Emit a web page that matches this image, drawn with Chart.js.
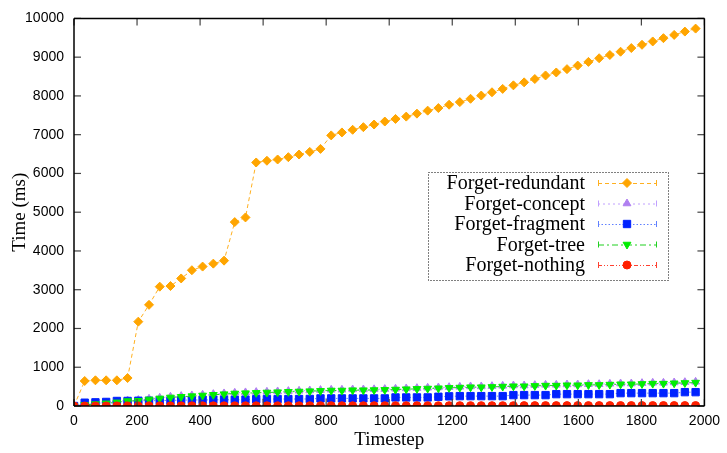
<!DOCTYPE html>
<html>
<head>
<meta charset="utf-8">
<script src="https://cdn.jsdelivr.net/npm/chart.js@4/dist/chart.umd.min.js"></script>
<style>
  html, body { margin: 0; padding: 0; background: #fff; }
  #timing { display: block; }
</style>
</head>
<body>
<canvas id="timing" width="727" height="453"></canvas>
<script>
// timesteps sampled in the run
var timesteps = [0, 34, 68, 102, 136, 170, 204, 238, 272, 306, 340, 374, 408, 442, 476, 510, 544, 578, 612, 646,
  680, 714, 748, 782, 816, 850, 884, 918, 952, 986, 1020, 1054, 1088, 1122, 1156, 1190, 1224, 1258, 1292, 1326,
  1360, 1394, 1428, 1462, 1496, 1530, 1564, 1598, 1632, 1666, 1700, 1734, 1768, 1802, 1836, 1870, 1904, 1938, 1972];

// time in ms for each strategy
var forgetRedundant = [0, 645, 663, 663, 663, 722, 2176, 2610, 3079, 3095, 3291, 3503, 3597, 3673, 3750, 4745, 4865, 6283, 6327, 6360,
  6420, 6488, 6556, 6633, 6982, 7058, 7126, 7194, 7262, 7339, 7406, 7466, 7543, 7620, 7687, 7773, 7840, 7926, 8010, 8094,
  8181, 8273, 8350, 8436, 8528, 8605, 8691, 8783, 8878, 8972, 9056, 9140, 9235, 9319, 9405, 9490, 9574, 9660, 9737];
var forgetConcept = [0, 45, 65, 85, 110, 142, 152, 186, 212, 238, 255, 272, 290, 306, 324, 340, 350, 358, 366, 375,
  384, 392, 400, 410, 418, 418, 426, 426, 430, 436, 444, 452, 460, 470, 478, 486, 494, 504, 504, 512,
  520, 528, 528, 538, 546, 546, 555, 555, 563, 563, 572, 580, 580, 590, 598, 598, 606, 614, 624];
var forgetFragment = [0, 85, 95, 105, 130, 130, 135, 135, 140, 145, 150, 155, 155, 160, 160, 160, 165, 175, 179, 179,
  180, 180, 182, 196, 196, 196, 196, 196, 196, 196, 221, 221, 221, 221, 238, 250, 255, 255, 255, 255,
  255, 281, 281, 281, 281, 306, 306, 306, 306, 306, 306, 332, 332, 332, 332, 332, 332, 357, 357];
var forgetTree = [0, 30, 50, 70, 95, 128, 136, 170, 196, 221, 238, 255, 272, 289, 306, 323, 332, 340, 349, 357,
  366, 374, 383, 391, 400, 400, 408, 408, 412, 417, 425, 434, 442, 451, 459, 468, 476, 485, 485, 493,
  502, 510, 510, 519, 527, 527, 536, 536, 544, 544, 553, 561, 561, 570, 578, 578, 587, 595, 604];
var forgetNothing = [0, 1, 2, 2, 3, 3, 3, 4, 4, 4, 4, 5, 5, 5, 5, 5, 6, 6, 6, 6,
  6, 6, 7, 7, 7, 7, 7, 7, 8, 8, 8, 8, 8, 8, 8, 9, 9, 9, 9, 9,
  9, 9, 10, 10, 10, 10, 10, 10, 10, 11, 11, 11, 11, 11, 11, 12, 12, 12, 12];

var seriesNames = ["Forget-redundant", "Forget-concept", "Forget-fragment", "Forget-tree", "Forget-nothing"];
var xTicks = [0, 200, 400, 600, 800, 1000, 1200, 1400, 1600, 1800, 2000];
var yTicks = [0, 1000, 2000, 3000, 4000, 5000, 6000, 7000, 8000, 9000, 10000];

const toPoints = (vals) => timesteps.map((t, i) => ({ x: t, y: vals[i] }));

const serif = '"Liberation Serif", "Times New Roman", serif';
const sans = '"Liberation Sans", Arial, Helvetica, sans-serif';

const seg = (ctx, x0, y0, x1, y1) => {
  ctx.beginPath();
  ctx.moveTo(x0, y0);
  ctx.lineTo(x1, y1);
  ctx.stroke();
};

// gnuplot-ish look: frame, inward mirrored ticks, key box on the right
const gnuFrame = {
  id: 'gnuFrame',
  afterDraw(chart) {
    const { ctx, chartArea: a, scales } = chart;
    const L = a.left, R = a.right, T = a.top, B = a.bottom;
    ctx.save();
    ctx.setLineDash([]);
    ctx.globalAlpha = 1;

    // mirrored inward ticks
    ctx.strokeStyle = '#444444';
    ctx.lineWidth = 1.2;
    xTicks.forEach(v => {
      const px = scales.x.getPixelForValue(v);
      seg(ctx, px, B, px, B - 7);
      seg(ctx, px, T, px, T + 7);
    });
    yTicks.forEach(v => {
      const py = scales.y.getPixelForValue(v);
      seg(ctx, L, py, L + 7, py);
      seg(ctx, R, py, R - 7, py);
    });

    ctx.strokeStyle = '#000000';
    ctx.lineWidth = 1.5;
    seg(ctx, L, T, R, T);
    seg(ctx, R, T, R, B);
    seg(ctx, L, B, R, B);
    seg(ctx, L, T, L, B);

    // key
    ctx.setLineDash([1, 2]);
    ctx.lineWidth = 1;
    ctx.strokeRect(428.5, 172.5, 240, 108);

    ctx.font = '20px ' + serif;
    ctx.textAlign = 'right';
    ctx.textBaseline = 'middle';
    chart.data.datasets.forEach((ds, i) => {
      const y = 183 + i * 20.5;
      ctx.setLineDash([]);
      ctx.fillStyle = '#000';
      ctx.fillText(ds.label, 585, y + 1);

      const x0 = 598, x1 = 656, xm = 627;
      ctx.strokeStyle = ds.borderColor;
      ctx.lineWidth = 1;
      ctx.setLineDash(ds.borderDash || []);
      seg(ctx, x0, y + 0.5, x1, y + 0.5);
      ctx.setLineDash([]);
      seg(ctx, x0 + 0.5, y - 3, x0 + 0.5, y + 3);
      seg(ctx, x1 + 0.5, y - 3, x1 + 0.5, y + 3);

      ctx.fillStyle = ds.pointBackgroundColor;
      ctx.strokeStyle = ds.pointBackgroundColor;
      Chart.helpers.drawPoint(ctx, {
        pointStyle: ds.pointStyle,
        radius: ds.pointRadius,
        rotation: ds.pointRotation || 0,
        borderWidth: 1
      }, xm, y);
    });
    ctx.restore();
  }
};

new Chart(document.getElementById('timing'), {
  type: 'line',
  data: {
    datasets: [
      {
        label: seriesNames[0],
        data: toPoints(forgetRedundant),
        borderColor: '#FFB020',
        borderWidth: 1,
        borderDash: [4, 3],
        pointStyle: 'rectRot',
        pointRadius: 4.5,
        pointBackgroundColor: '#FFA500',
        pointBorderColor: '#FFA500',
        order: 5
      },
      {
        label: seriesNames[1],
        data: toPoints(forgetConcept),
        borderColor: '#C0A0FF',
        borderWidth: 1,
        borderDash: [2, 3],
        pointStyle: 'triangle',
        pointRadius: 4.5,
        pointBackgroundColor: '#B080F0',
        pointBorderColor: '#B080F0',
        order: 4
      },
      {
        label: seriesNames[2],
        data: toPoints(forgetFragment),
        borderColor: '#6080FF',
        borderWidth: 1,
        borderDash: [1.5, 2],
        pointStyle: 'rect',
        pointRadius: 5.2,
        pointBackgroundColor: '#0022FF',
        pointBorderColor: '#0022FF',
        order: 3
      },
      {
        label: seriesNames[3],
        data: toPoints(forgetTree),
        borderColor: '#20D020',
        borderWidth: 1,
        borderDash: [6, 3, 2, 3],
        pointStyle: 'triangle',
        pointRotation: 180,
        pointRadius: 4.5,
        pointBackgroundColor: '#00EE00',
        pointBorderColor: '#00EE00',
        order: 2
      },
      {
        label: seriesNames[4],
        data: toPoints(forgetNothing),
        borderColor: '#FF4030',
        borderWidth: 1,
        borderDash: [4, 2, 1, 2, 1, 2],
        pointStyle: 'circle',
        pointRadius: 4,
        pointBackgroundColor: '#FF2000',
        pointBorderColor: '#FF2000',
        order: 1
      }
    ]
  },
  options: {
    responsive: false,
    animation: false,
    devicePixelRatio: 1,
    layout: { padding: { top: 14, right: 20, left: 0, bottom: 0 } },
    plugins: {
      legend: { display: false },
      title: { display: false },
      tooltip: { enabled: false }
    },
    scales: {
      x: {
        type: 'linear',
        min: 0,
        max: 2000,
        afterBuildTicks: (s) => { s.ticks = xTicks.map(v => ({ value: v })); },
        afterFit: (s) => { s.height = 47; },
        grid: { display: false, drawTicks: false },
        border: { display: false },
        ticks: { color: '#000', padding: 7, font: { family: sans, size: 14 }, maxRotation: 0, callback: (v) => String(v) },
        title: {
          display: true,
          text: 'Timestep',
          color: '#000',
          font: { family: serif, size: 19 },
          padding: { top: 0, bottom: 2 }
        }
      },
      y: {
        min: 0,
        max: 10000,
        afterBuildTicks: (s) => { s.ticks = yTicks.map(v => ({ value: v })); },
        afterFit: (s) => { s.width = 74; },
        grid: { display: false, drawTicks: false },
        border: { display: false },
        ticks: { color: '#000', padding: 10, font: { family: sans, size: 14 }, callback: (v) => String(v) },
        title: {
          display: true,
          text: 'Time (ms)',
          color: '#000',
          font: { family: serif, size: 19 },
          padding: { top: 9, bottom: 0 }
        }
      }
    }
  },
  plugins: [gnuFrame]
});
</script>
</body>
</html>
